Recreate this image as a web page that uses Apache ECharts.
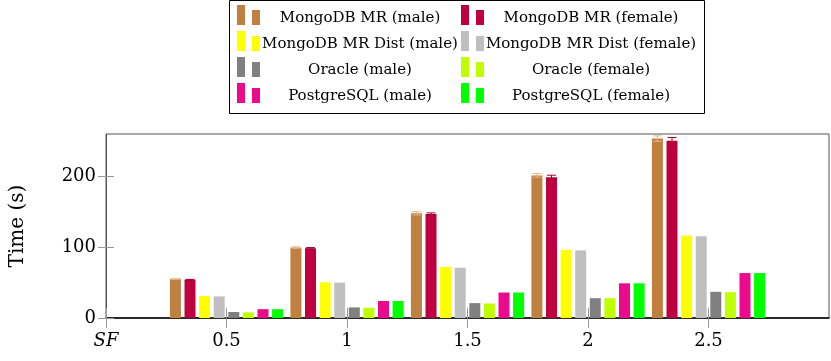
<!DOCTYPE html>
<html lang="en" style="height: 100%">
<head>
  <meta charset="utf-8">
</head>
<body style="height: 100%; margin: 0">
  <div id="container" style="width: 831px; height: 361px"></div>

  <script type="text/javascript" src="https://cdn.jsdelivr.net/npm/echarts@6/dist/echarts.min.js"></script>

  <script type="text/javascript">
    // scale factors on the x axis
    var sf = [0.5, 1, 1.5, 2, 2.5];
    var xTicks = [0, 0.5, 1, 1.5, 2, 2.5];
    var yTicks = [0, 100, 200];

    // run times in seconds
    var mrMale = [55, 99.5, 148, 201.5, 253.5];
    var mrFemale = [54, 98.5, 147, 199, 250.5];
    var distMale = [31, 50.5, 72, 96.5, 116.5];
    var distFemale = [30.5, 50, 71, 95.5, 115.5];
    var oracleMale = [8.5, 15, 21, 28, 37];
    var oracleFemale = [8, 14.5, 20.5, 28, 36.5];
    var pgMale = [12.5, 24, 36, 49, 63.5];
    var pgFemale = [12.5, 24, 36, 49, 63.5];

    // error bars (only on MongoDB MR)
    var mrMaleErr = [0.6, 1, 2.3, 2.5, 3.8];
    var mrFemaleErr = [0.6, 1, 1.5, 2.8, 4.6];

    var names = [
      'MongoDB MR (male)', 'MongoDB MR (female)',
      'MongoDB MR Dist (male)', 'MongoDB MR Dist (female)',
      'Oracle (male)', 'Oracle (female)',
      'PostgreSQL (male)', 'PostgreSQL (female)'
    ];
    var values = [mrMale, mrFemale, distMale, distFemale, oracleMale, oracleFemale, pgMale, pgFemale];
    var colors = ['#BF8040', '#BF0040', '#FFFF00', '#BFBFBF', '#808080', '#BFFF00', '#EC0A8C', '#00FF00'];

    var serif = 'DejaVu Serif';
    var barW = 11;
    var pitch = 14.6;

    var dom = document.getElementById('container');
    var myChart = echarts.init(dom, null, { renderer: 'canvas' });

    var series = names.map(function (n, i) {
      return {
        name: n,
        type: 'bar',
        barWidth: barW,
        barGap: ((pitch - barW) / barW * 100).toFixed(1) + '%',
        itemStyle: { color: colors[i] },
        data: sf.map(function (x, k) { return [x, values[i][k]]; })
      };
    });

    function errSeries(idx, vals, errs, col) {
      return {
        type: 'custom',
        z: 5,
        silent: true,
        data: sf.map(function (x, k) { return [x, vals[k], errs[k]]; }),
        renderItem: function (params, api) {
          var dx = (idx - 3.5) * pitch;
          var x = api.value(0), y = api.value(1), e = api.value(2);
          var lo = api.coord([x, y - e]);
          var hi = api.coord([x, y + e]);
          var cx = lo[0] + dx;
          var hw = 4.5;
          var st = { stroke: col, lineWidth: 1 };
          return {
            type: 'group',
            children: [
              { type: 'line', shape: { x1: cx, y1: lo[1], x2: cx, y2: hi[1] }, style: st },
              { type: 'line', shape: { x1: cx - hw, y1: lo[1], x2: cx + hw, y2: lo[1] }, style: st },
              { type: 'line', shape: { x1: cx - hw, y1: hi[1], x2: cx + hw, y2: hi[1] }, style: st }
            ]
          };
        }
      };
    }
    series.push(errSeries(0, mrMale, mrMaleErr, '#E3B588'));
    series.push(errSeries(1, mrFemale, mrFemaleErr, '#A00030'));

    // legend box drawn by hand: 2 columns x 4 rows, pgfplots style two-bar icons
    var legendEls = [{
      type: 'rect',
      shape: { x: 229.5, y: 0.5, width: 475, height: 113 },
      style: { fill: '#fff', stroke: '#000', lineWidth: 1 }
    }];
    names.forEach(function (n, i) {
      var r = Math.floor(i / 2), c = i % 2;
      var ix = 237 + c * 224, iy = 5 + r * 26;
      legendEls.push({ type: 'rect', shape: { x: ix, y: iy, width: 8, height: 20 }, style: { fill: colors[i] } });
      legendEls.push({ type: 'rect', shape: { x: ix + 15, y: iy + 5, width: 8, height: 15 }, style: { fill: colors[i] } });
      legendEls.push({
        type: 'text',
        x: 360 + c * 231,
        y: 18 + r * 26,
        style: {
          text: n, fontFamily: serif, fontSize: 15, fill: '#000',
          align: 'center', verticalAlign: 'middle'
        }
      });
    });

    var option = {
      animation: false,
      graphic: legendEls,
      grid: {
        left: 105,
        right: 2,
        top: 134,
        bottom: 43,
        show: true,
        borderColor: '#555',
        borderWidth: 1
      },
      xAxis: [
        {
          type: 'value',
          min: 0,
          max: 3,
          interval: 0.5,
          splitLine: { show: false },
          axisLine: { show: true, onZero: false, lineStyle: { color: '#000', width: 1.5 } },
          axisTick: { show: true, length: 10, customValues: xTicks, lineStyle: { color: '#999' } },
          axisLabel: {
            margin: 14,
            fontFamily: serif,
            fontSize: 18,
            color: '#000',
            customValues: xTicks,
            formatter: function (v) { return v === 0 ? '{i|SF}' : String(v); },
            rich: { i: { fontFamily: serif, fontSize: 18, fontStyle: 'italic', color: '#000' } }
          }
        },
        {
          type: 'value',
          position: 'top',
          min: 0,
          max: 3,
          interval: 0.5,
          splitLine: { show: false },
          axisLine: { show: false },
          axisTick: { show: true, length: 10, customValues: xTicks, lineStyle: { color: '#999' } },
          axisLabel: { show: false }
        }
      ],
      yAxis: [
        {
          type: 'value',
          min: 0,
          max: 260,
          interval: 100,
          name: 'Time (s)',
          nameLocation: 'middle',
          nameGap: 78,
          nameTextStyle: { fontFamily: serif, fontSize: 20, color: '#000' },
          splitLine: { show: false },
          axisLine: { show: true, lineStyle: { color: '#555' } },
          axisTick: { show: true, inside: true, length: 8, customValues: yTicks, lineStyle: { color: '#999' } },
          axisLabel: { margin: 10, fontFamily: serif, fontSize: 18, color: '#000', customValues: yTicks }
        },
        {
          type: 'value',
          position: 'right',
          min: 0,
          max: 260,
          interval: 100,
          splitLine: { show: false },
          axisLine: { show: false },
          axisTick: { show: true, inside: true, length: 8, customValues: yTicks, lineStyle: { color: '#999' } },
          axisLabel: { show: false }
        }
      ],
      series: series
    };

    myChart.setOption(option);

    window.addEventListener('resize', function () {
      myChart.resize();
    });
  </script>
</body>
</html>
